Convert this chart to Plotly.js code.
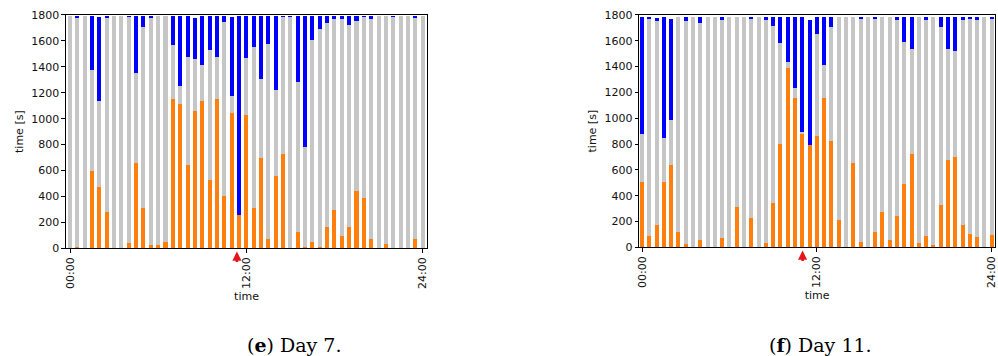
<!DOCTYPE html>
<html>
<head>
<meta charset="utf-8">
<script src="https://cdn.plot.ly/plotly-3.0.1.min.js"></script>
<style>
  html, body { margin: 0; padding: 0; background: #fff; }
  #chart { width: 998px; height: 356px; }
</style>
</head>
<body>
<div id="chart"></div>
<script>
// Half-hour slots 0..48 (00:00 .. 24:00)
const slots = Array.from({length: 49}, (_, i) => i);
const tickVals = [0, 24, 48];
const tickText = ["00:00", "12:00", "24:00"];

// Day 7: top of orange part, top of gray part, top of whole bar [s]
const day7Orange = [0, 8, 0, 597, 476, 283, 0, 0, 41, 659, 312, 26, 23, 46, 1151, 1115, 639, 1056, 1133, 528, 1148, 404, 1045, 255, 1030, 309, 695, 72, 554, 729, 0, 126, 8, 49, 8, 162, 296, 98, 165, 443, 389, 75, 0, 33, 0, 5, 0, 72, 0];
const day7Gray   = [1790, 1774, 1790, 1375, 1138, 1774, 1790, 1790, 1782, 1352, 1707, 1774, 1790, 1790, 1566, 1254, 1475, 1460, 1414, 1532, 1475, 1743, 1172, 260, 1470, 1550, 1306, 1578, 1223, 1786, 1784, 1280, 778, 1604, 1689, 1741, 1772, 1769, 1723, 1756, 1787, 1772, 1790, 1790, 1786, 1790, 1790, 1777, 1790];
const day7Top    = [1790, 1790, 1790, 1790, 1783, 1790, 1790, 1790, 1790, 1790, 1790, 1790, 1790, 1790, 1790, 1790, 1790, 1777, 1790, 1790, 1790, 1790, 1783, 1790, 1790, 1790, 1790, 1790, 1790, 1790, 1790, 1790, 1790, 1790, 1790, 1790, 1790, 1790, 1790, 1790, 1790, 1790, 1790, 1790, 1790, 1790, 1790, 1790, 1790];

// Day 11
const day11Orange = [506, 88, 176, 506, 635, 119, 26, 0, 57, 0, 0, 72, 0, 312, 0, 227, 0, 31, 343, 800, 1392, 1159, 878, 790, 862, 1157, 824, 212, 0, 653, 39, 0, 116, 271, 59, 245, 491, 723, 31, 90, 18, 330, 674, 700, 173, 103, 77, 0, 93];
const day11Gray   = [878, 1766, 1756, 850, 989, 1785, 1756, 1785, 1740, 1785, 1785, 1761, 1785, 1785, 1785, 1769, 1785, 1763, 1717, 1583, 1436, 1237, 893, 790, 1652, 1412, 1704, 1785, 1785, 1785, 1769, 1785, 1771, 1785, 1785, 1763, 1590, 1539, 1785, 1758, 1785, 1704, 1539, 1523, 1763, 1771, 1763, 1785, 1766];
const day11Top    = [1782, 1782, 1775, 1785, 1769, 1785, 1785, 1785, 1785, 1785, 1785, 1785, 1785, 1785, 1785, 1785, 1785, 1785, 1785, 1785, 1785, 1785, 1785, 1763, 1785, 1785, 1785, 1785, 1785, 1785, 1785, 1785, 1785, 1785, 1785, 1785, 1785, 1785, 1785, 1785, 1785, 1785, 1785, 1785, 1785, 1785, 1785, 1785, 1785];

const arrowSlot7 = 22.72;
const arrowSlot11 = 22.04;

const ORANGE = "#ff7f0e", GRAY = "#c6c6c6", BLUE = "#0000ff";
const BW = 0.55;

function traces(orange, gray, top, xa, ya) {
  return [
    {type: "bar", x: slots, y: orange, base: slots.map(() => 0), width: BW,
     marker: {color: ORANGE, line: {width: 0}}, xaxis: xa, yaxis: ya, showlegend: false, hoverinfo: "skip"},
    {type: "bar", x: slots, y: gray.map((g, i) => g - orange[i]), base: orange, width: BW,
     marker: {color: GRAY, line: {width: 0}}, xaxis: xa, yaxis: ya, showlegend: false, hoverinfo: "skip"},
    {type: "bar", x: slots, y: top.map((t, i) => t - gray[i]), base: gray, width: BW,
     marker: {color: BLUE, line: {width: 0}}, xaxis: xa, yaxis: ya, showlegend: false, hoverinfo: "skip"}
  ];
}

const data = [].concat(
  traces(day7Orange, day7Gray, day7Top, "x", "y"),
  traces(day11Orange, day11Gray, day11Top, "x2", "y2")
);

const tickFont = {family: "DejaVu Sans", size: 11, color: "#111"};
function xAxis(domain, range, anchor) {
  return {
    domain: domain, range: range, anchor: anchor,
    tickmode: "array", tickvals: tickVals, ticktext: tickText, tickangle: -90,
    ticklabeloverflow: "allow",
    ticks: "outside", ticklen: 3.5, tickwidth: 1, tickcolor: "#000",
    showline: true, linecolor: "#000", linewidth: 1, mirror: true,
    showgrid: false, zeroline: false, tickfont: tickFont,
    title: {text: "time", font: tickFont, standoff: 4}
  };
}
function yAxis(domain, anchor) {
  return {
    domain: domain, range: [0, 1800], anchor: anchor,
    tickmode: "linear", tick0: 0, dtick: 200,
    ticks: "outside", ticklen: 3.5, tickwidth: 1, tickcolor: "#000",
    showline: true, linecolor: "#000", linewidth: 1, mirror: true,
    showgrid: false, zeroline: false, tickfont: tickFont,
    title: {text: "time [s]", font: tickFont, standoff: 5}
  };
}

function arrow(x, xref, yref) {
  return {x: x, xref: xref, y: -0.014, yref: yref, ax: 0, ay: 12, axref: "pixel", ayref: "pixel",
          text: "", showarrow: true, arrowhead: 2, arrowsize: 0.7, arrowwidth: 2.6, arrowcolor: "#e8141c"};
}

const captionFont = {family: "DejaVu Serif", size: 19, color: "#000"};
const layout = {
  width: 998, height: 356,
  margin: {l: 0, r: 0, t: 0, b: 0},
  paper_bgcolor: "#fff", plot_bgcolor: "#fff",
  barmode: "overlay", bargap: 0,
  showlegend: false,
  xaxis: xAxis([0.0661, 0.4279], [-0.55, 48.6], "y"),
  yaxis: yAxis([0.3025, 0.958], "x"),
  xaxis2: xAxis([0.6406, 0.997], [-0.37, 48.45], "y2"),
  yaxis2: yAxis([0.3053, 0.958], "x2"),
  annotations: [
    arrow(arrowSlot7, "x", "y domain"),
    arrow(arrowSlot11, "x2", "y2 domain"),
    {x: 294 / 998, y: 1 - 345 / 356, xref: "paper", yref: "paper", showarrow: false,
     text: "(<b>e</b>) Day 7.", font: captionFont, xanchor: "center", yanchor: "middle"},
    {x: 820 / 998, y: 1 - 345 / 356, xref: "paper", yref: "paper", showarrow: false,
     text: "(<b>f</b>) Day 11.", font: captionFont, xanchor: "center", yanchor: "middle"}
  ]
};

Plotly.newPlot("chart", data, layout, {staticPlot: true, displayModeBar: false});
</script>
</body>
</html>
